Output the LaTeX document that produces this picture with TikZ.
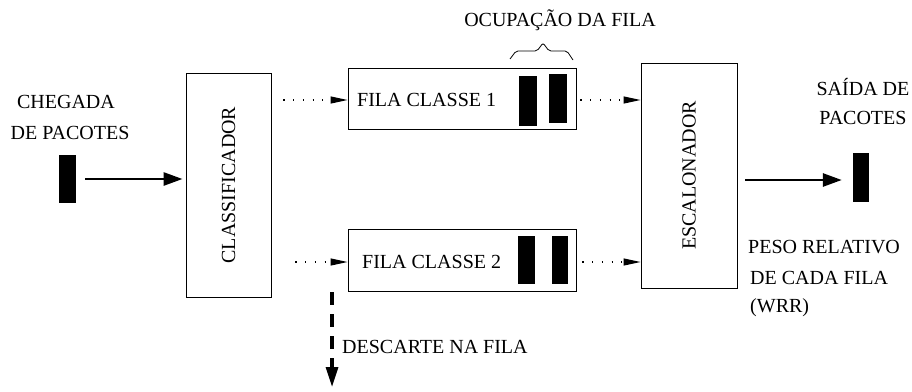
\documentclass[tikz,border=0pt]{standalone}
\usepackage{fontspec}
\setmainfont{Liberation Serif}
\usetikzlibrary{arrows.meta}
\begin{document}
\begin{tikzpicture}[x=1pt,y=-1pt,
  every node/.style={font=\fontsize{20}{24}\selectfont, inner sep=0pt},
  blockbox/.style={draw, line width=0.9pt, rectangle},
  packet/.style={fill=black, rectangle},
  solidarrow/.style={line width=2.8pt, -{Triangle[length=19pt,width=13pt]}},
  dotarrow/.style={line width=1.1pt, dash pattern=on 1.2pt off 8.5pt, -{Triangle[length=17pt,width=7pt]}},
  droparrow/.style={line width=3.2pt, dash pattern=on 13pt off 9pt, -{Triangle[length=20pt,width=12pt]}}]
\useasboundingbox (0,0) rectangle (912,391);

% functional blocks
\node[blockbox, minimum width=85pt, minimum height=224pt] (cls) at (228.5,185) {};
\node[rotate=90] at (cls) {CLASSIFICADOR};
\node[blockbox, minimum width=228pt, minimum height=61pt] (f1) at (462,98.5) {};
\node[blockbox, minimum width=228pt, minimum height=62pt] (f2) at (462,260) {};
\node[blockbox, minimum width=96pt, minimum height=225pt] (esc) at (689,175.5) {};
\node[rotate=90] at (esc) {ESCALONADOR};

% queue labels
\node[anchor=west] (t1) at (357,100) {FILA CLASSE 1};
\node[anchor=west] (t2) at (362,262) {FILA CLASSE 2};

% packets waiting in each queue
\node[packet, minimum width=18pt, minimum height=50pt] (p11) at (528,101) {};
\node[packet, minimum width=18pt, minimum height=49pt] (p12) at (558,98.5) {};
\node[packet, minimum width=17pt, minimum height=48pt] (p21) at (526.5,260) {};
\node[packet, minimum width=16pt, minimum height=48pt] (p22) at (560,260) {};

% incoming and outgoing packets
\node[packet, minimum width=17pt, minimum height=48pt] (pin) at (67.5,179) {};
\node[packet, minimum width=16pt, minimum height=49pt] (pout) at (861,177.5) {};

% queue occupancy brace
\draw[line width=0.8pt, rounded corners=2pt] (510,59) -- (516,51) -- (537,51) -- (543,43) -- (549,51) -- (567,51) -- (573,60);
\node (occ) at (560,20) {OCUPAÇÃO DA FILA};

% text labels
\node (in1) at (66,102) {CHEGADA};
\node (in2) at (70,133) {DE PACOTES};
\node (out1) at (863,87) {SAÍDA DE};
\node (out2) at (863,118) {PACOTES};
\node[anchor=west] (w1) at (748,247) {PESO RELATIVO};
\node[anchor=west] (w2) at (750,278) {DE CADA FILA};
\node[anchor=west] (w3) at (750,308) {(WRR)};
\node[anchor=west] (drop) at (342,347) {DESCARTE NA FILA};

% connectors
\draw[solidarrow, shorten <=9pt, shorten >=3pt] (pin.east) -- (pin.east -| cls.west);
\draw[solidarrow, shorten <=8pt, shorten >=11pt] (esc.east |- 0,180) -- (pout.west |- 0,180);
\draw[dotarrow, shorten <=12pt] (cls.east |- 0,100) -- (f1.west |- 0,100);
\draw[dotarrow, shorten <=24pt] (cls.east |- 0,262) -- (f2.west |- 0,262);
\draw[dotarrow, shorten <=4pt] (f1.east |- 0,100) -- (esc.west |- 0,100);
\draw[dotarrow, shorten <=6pt] (f2.east |- 0,262) -- (esc.west |- 0,262);
\coordinate (dropstart) at (332,292);
\coordinate (dropend) at (332,387);
\draw[droparrow] (dropstart) -- (dropend);
\end{tikzpicture}
\end{document}
